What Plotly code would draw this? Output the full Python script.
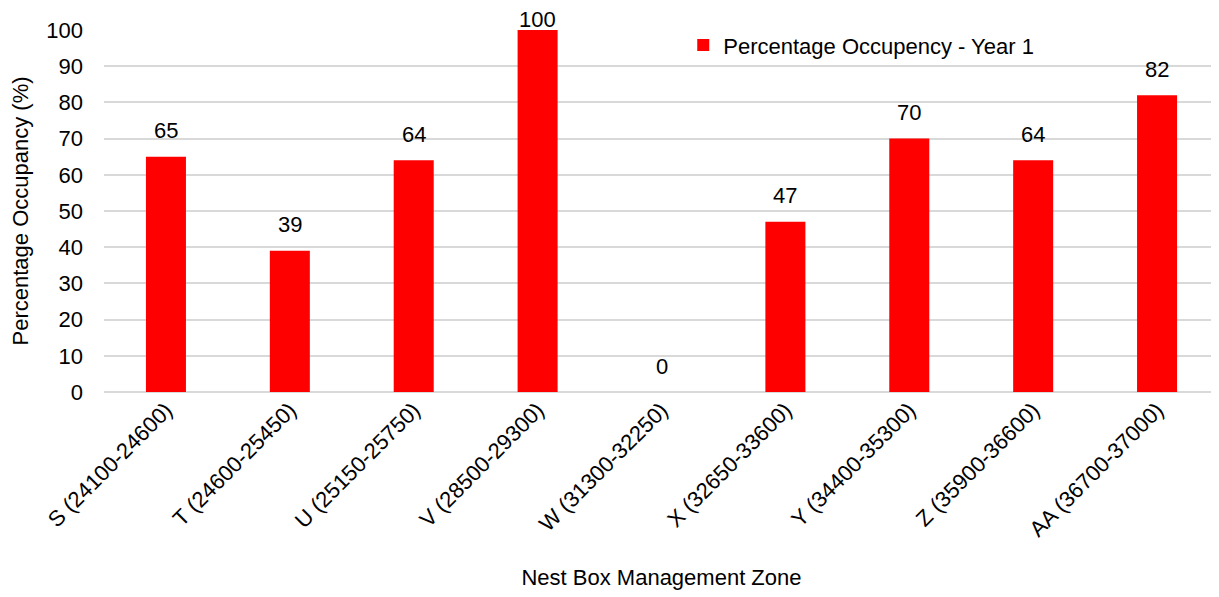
import plotly.graph_objects as go

zones = ["S (24100-24600)", "T (24600-25450)", "U (25150-25750)", "V (28500-29300)",
         "W (31300-32250)", "X (32650-33600)", "Y (34400-35300)", "Z (35900-36600)",
         "AA (36700-37000)"]
occupancy = [65, 39, 64, 100, 0, 47, 70, 64, 82]
y_ticks = list(range(0, 101, 10))

FONT = "Liberation Sans, Arial, sans-serif"

# page body has an 8px margin, so figure is offset by 8px
FIG_W, FIG_H = 1211, 589
M_L, M_R, M_T, M_B = 96, 0, 22, 205
PLOT_H = FIG_H - M_T - M_B
Y_MAX = 100
LABEL_OFFSET = 26   # px from bar top to label centre
MIN_CENTER = 11     # label centre may not rise above this (px from figure top)

fig = go.Figure()
fig.add_trace(go.Bar(
    x=zones, y=occupancy, name="Percentage Occupency - Year 1",
    marker=dict(color="#ff0000", line=dict(width=0)),
))

for z, v in zip(zones, occupancy):
    bar_top_px = M_T + PLOT_H * (1 - v / Y_MAX)
    centre = max(bar_top_px - LABEL_OFFSET, MIN_CENTER)
    fig.add_annotation(x=z, y=v, text=str(v), showarrow=False,
                       yanchor="middle", yshift=bar_top_px - centre,
                       font=dict(size=22, color="#000000", family=FONT))

fig.update_layout(
    width=FIG_W, height=FIG_H,
    margin=dict(l=M_L, r=M_R, t=M_T, b=M_B, pad=0),
    paper_bgcolor="white", plot_bgcolor="white",
    font=dict(family=FONT, color="#000000", size=22),
    bargap=0.677,
    showlegend=True,
    legend=dict(x=0.5195, y=0.958, xanchor="left", yanchor="middle",
                font=dict(size=22, family=FONT), bgcolor="rgba(0,0,0,0)",
                itemwidth=30),
    xaxis=dict(
        title=dict(text="Nest Box Management Zone", font=dict(size=22), standoff=29),
        tickangle=-45, tickfont=dict(size=22), showgrid=False,
        showline=False, ticks="",
    ),
    yaxis=dict(
        title=dict(text="Percentage Occupancy (%)", font=dict(size=22), standoff=18),
        range=[0, Y_MAX], tickvals=y_ticks, tickfont=dict(size=22),
        showgrid=True, gridcolor="#d9d9d9", gridwidth=1.5,
        zeroline=True, zerolinecolor="#d9d9d9", zerolinewidth=1.5,
        showline=False, ticks="", ticklabelstandoff=20,
    ),
)

fig.write_html("out.html")
